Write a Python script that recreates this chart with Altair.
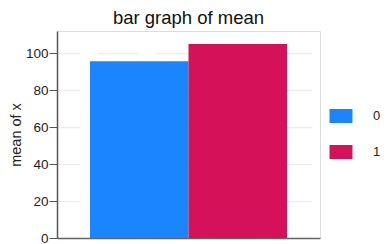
import altair as alt
import pandas as pd

groups = ["0", "1"]
means = [95.7, 104.9]
colors = ["#1A85FF", "#D41159"]

df = pd.DataFrame({"g": groups, "mean": means})

rect_path = "M-0.82,-0.5L0.82,-0.5L0.82,0.5L-0.82,0.5Z"

chart = alt.Chart(df).mark_bar().encode(
    x=alt.X("g:N", scale=alt.Scale(paddingInner=0, paddingOuter=0.335),
            axis=alt.Axis(title=None, labels=False, ticks=False, domainColor="#666666",
                          domainWidth=1.5, grid=False)),
    y=alt.Y("mean:Q", scale=alt.Scale(domain=[0, 112], nice=False),
            axis=alt.Axis(title="mean of x", values=[0, 20, 40, 60, 80, 100], grid=True,
                          gridColor="#eeeeee", gridWidth=1.5, gridDash=[41, 17], gridDashOffset=18,
                          domainColor="#555555", domainWidth=1.5, tickColor="#555555",
                          tickSize=8, labelFontSize=13.5, labelColor="#222222",
                          titleFontSize=14.5, titleFontWeight="normal", titleColor="#222222",
                          titlePadding=2, labelPadding=1)),
    color=alt.Color("g:N", scale=alt.Scale(domain=groups, range=colors),
                    legend=alt.Legend(title=None, orient="none", legendX=270, legendY=71,
                                      symbolType=rect_path, symbolSize=784, symbolStrokeWidth=0,
                                      symbolOpacity=1, labelFontSize=13, labelColor="#222222",
                                      labelOffset=18, rowPadding=15)),
).properties(
    width=263, height=207,
    title=alt.TitleParams("bar graph of mean", fontSize=18.5, fontWeight="normal", color="#111111", offset=4),
    autosize=alt.AutoSizeParams(type="none"),
    padding={"left": 49, "top": 23, "right": 61, "bottom": 8},
).configure_view(stroke=None).configure(font="Liberation Sans")

chart.save("out.html", embed_options={"renderer": "svg", "actions": False})
